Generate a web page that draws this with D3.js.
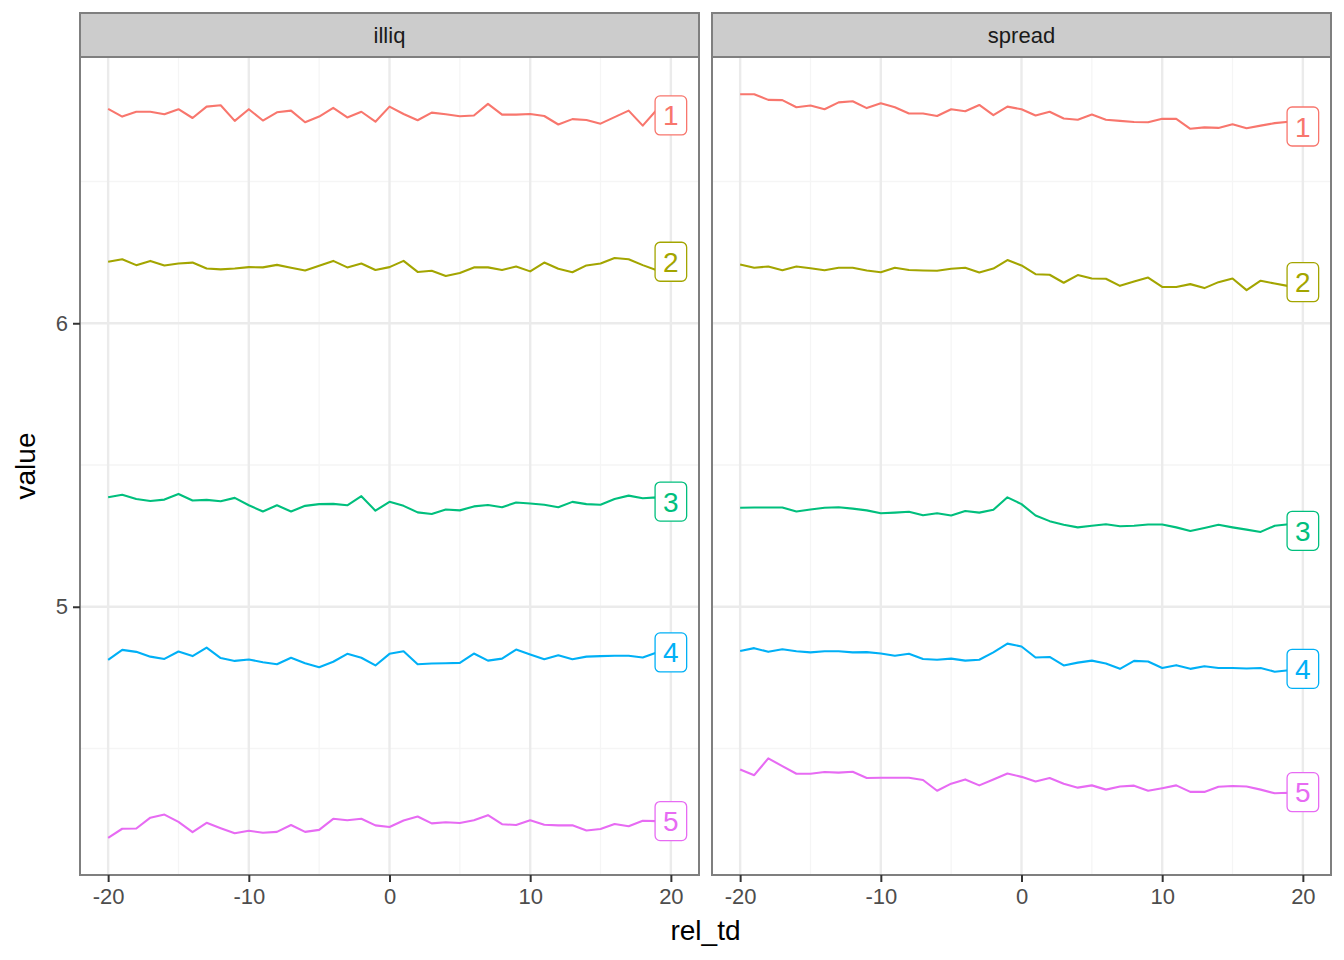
<!DOCTYPE html>
<html>
<head>
<meta charset="utf-8">
<script src="https://cdn.jsdelivr.net/npm/d3@7"></script>
<style>
  body { margin: 0; background: #ffffff; }
  text { font-family: "Liberation Sans", Arial, Helvetica, sans-serif; }
</style>
</head>
<body>
<svg id="chart" width="1344" height="960"></svg>
<script>
// ---------------- data ----------------
const relTd = [-20,-19,-18,-17,-16,-15,-14,-13,-12,-11,-10,-9,-8,-7,-6,-5,-4,-3,-2,-1,0,
               1,2,3,4,5,6,7,8,9,10,11,12,13,14,15,16,17,18,19,20];
const facets = ["illiq", "spread"];
const groups = ["1", "2", "3", "4", "5"];
const groupColors = ["#F8766D", "#A3A500", "#00BF7D", "#00B0F6", "#E76BF3"];
const xTicks = [-20, -10, 0, 10, 20];
const xMinorTicks = [-15, -5, 5, 15];
const yTicks = [5, 6];
const yMinorTicks = [4.5, 5.5, 6.5];

const illiq1 = [6.756, 6.729, 6.746, 6.746, 6.737, 6.755, 6.724, 6.764, 6.769, 6.714,
                6.755, 6.715, 6.744, 6.750, 6.709, 6.729, 6.760, 6.726, 6.746, 6.711,
                6.764, 6.738, 6.716, 6.743, 6.737, 6.730, 6.733, 6.774, 6.736, 6.736,
                6.738, 6.731, 6.701, 6.720, 6.717, 6.704, 6.727, 6.750, 6.697, 6.753, 6.760];
const illiq2 = [6.217, 6.226, 6.205, 6.220, 6.204, 6.211, 6.214, 6.193, 6.190, 6.193,
                6.198, 6.197, 6.206, 6.196, 6.186, 6.203, 6.220, 6.197, 6.211, 6.188,
                6.198, 6.220, 6.181, 6.185, 6.167, 6.177, 6.197, 6.197, 6.188, 6.200,
                6.183, 6.214, 6.192, 6.180, 6.204, 6.211, 6.230, 6.226, 6.205, 6.187, 6.175];
const illiq3 = [5.386, 5.395, 5.380, 5.373, 5.378, 5.398, 5.375, 5.377, 5.372, 5.384,
                5.358, 5.336, 5.358, 5.336, 5.356, 5.362, 5.363, 5.358, 5.390, 5.339,
                5.370, 5.356, 5.333, 5.327, 5.343, 5.340, 5.354, 5.359, 5.351, 5.368,
                5.364, 5.360, 5.351, 5.370, 5.362, 5.360, 5.380, 5.392, 5.383, 5.386, 5.385];
const illiq4 = [4.813, 4.848, 4.841, 4.824, 4.816, 4.842, 4.826, 4.856, 4.819, 4.809,
                4.814, 4.804, 4.797, 4.820, 4.801, 4.787, 4.806, 4.834, 4.820, 4.793,
                4.834, 4.843, 4.797, 4.800, 4.801, 4.802, 4.835, 4.810, 4.817, 4.849,
                4.832, 4.815, 4.829, 4.815, 4.824, 4.826, 4.827, 4.827, 4.821, 4.839, 4.845];
const illiq5 = [4.185, 4.217, 4.218, 4.256, 4.267, 4.241, 4.205, 4.238, 4.219, 4.201,
                4.210, 4.203, 4.206, 4.230, 4.206, 4.213, 4.252, 4.247, 4.252, 4.229,
                4.223, 4.246, 4.260, 4.236, 4.240, 4.237, 4.247, 4.265, 4.233, 4.230,
                4.247, 4.231, 4.229, 4.229, 4.211, 4.216, 4.234, 4.226, 4.245, 4.244, 4.244];

const spread1 = [6.808, 6.808, 6.788, 6.787, 6.762, 6.768, 6.755, 6.779, 6.783, 6.759,
                 6.776, 6.762, 6.740, 6.740, 6.731, 6.755, 6.748, 6.770, 6.734, 6.764,
                 6.755, 6.733, 6.746, 6.722, 6.718, 6.736, 6.718, 6.714, 6.710, 6.709,
                 6.721, 6.721, 6.686, 6.691, 6.689, 6.702, 6.688, 6.697, 6.706, 6.711, 6.715];
const spread2 = [6.207, 6.196, 6.200, 6.187, 6.200, 6.194, 6.187, 6.196, 6.196, 6.186,
                 6.180, 6.196, 6.188, 6.186, 6.185, 6.192, 6.196, 6.179, 6.193, 6.223,
                 6.204, 6.173, 6.171, 6.143, 6.170, 6.158, 6.157, 6.132, 6.147, 6.161,
                 6.128, 6.128, 6.138, 6.124, 6.145, 6.158, 6.117, 6.150, 6.140, 6.131, 6.128];
const spread3 = [5.349, 5.350, 5.350, 5.350, 5.336, 5.343, 5.349, 5.351, 5.346, 5.340,
                 5.330, 5.332, 5.335, 5.323, 5.330, 5.322, 5.338, 5.332, 5.342, 5.386,
                 5.362, 5.322, 5.302, 5.289, 5.280, 5.286, 5.291, 5.284, 5.286, 5.290,
                 5.290, 5.280, 5.267, 5.278, 5.289, 5.280, 5.272, 5.264, 5.286, 5.291, 5.292];
const spread4 = [4.844, 4.854, 4.841, 4.850, 4.843, 4.839, 4.843, 4.843, 4.839, 4.840,
                 4.835, 4.827, 4.834, 4.816, 4.813, 4.817, 4.810, 4.813, 4.839, 4.870,
                 4.860, 4.821, 4.823, 4.793, 4.803, 4.810, 4.800, 4.781, 4.809, 4.807,
                 4.784, 4.794, 4.781, 4.790, 4.784, 4.784, 4.782, 4.784, 4.771, 4.776, 4.775];
const spread5 = [4.426, 4.406, 4.465, 4.438, 4.411, 4.411, 4.417, 4.415, 4.418, 4.396,
                 4.397, 4.397, 4.397, 4.389, 4.351, 4.376, 4.391, 4.370, 4.391, 4.412,
                 4.400, 4.384, 4.396, 4.376, 4.362, 4.370, 4.355, 4.366, 4.369, 4.351,
                 4.360, 4.370, 4.347, 4.347, 4.365, 4.368, 4.366, 4.355, 4.342, 4.344, 4.343];

// label positions (value at rel_td = 20, slightly repelled)
const illiqLabelValues  = [6.733, 6.217, 5.371, 4.839, 4.244];
const spreadLabelValues = [6.694, 6.145, 5.268, 4.781, 4.346];

const seriesByFacet = {
  illiq:  [illiq1, illiq2, illiq3, illiq4, illiq5],
  spread: [spread1, spread2, spread3, spread4, spread5]
};
const labelsByFacet = { illiq: illiqLabelValues, spread: spreadLabelValues };

// ---------------- layout ----------------
const svg = d3.select("#chart");
const panelTop = 57, panelBottom = 875, stripTop = 13;
const panelX = [[80, 699], [712, 1331]];
const borderColor = "#7f7f7f";

const allVals = Object.values(seriesByFacet).flat(2);
const yMin = d3.min(allVals), yMax = d3.max(allVals);
const yPad = (yMax - yMin) * 0.05;
const y = d3.scaleLinear().domain([yMin - yPad, yMax + yPad]).range([panelBottom, panelTop]);
const xExt = d3.extent(relTd);
const xPad = (xExt[1] - xExt[0]) * 0.05;

facets.forEach((facet, fi) => {
  const [x0, x1] = panelX[fi];
  const x = d3.scaleLinear().domain([xExt[0] - xPad, xExt[1] + xPad]).range([x0, x1]);
  const g = svg.append("g");

  // panel background
  g.append("rect").attr("x", x0).attr("y", panelTop).attr("width", x1 - x0)
    .attr("height", panelBottom - panelTop).attr("fill", "#ffffff");

  // minor grid
  g.selectAll(".ymin").data(yMinorTicks).join("line")
    .attr("x1", x0).attr("x2", x1).attr("y1", d => y(d)).attr("y2", d => y(d))
    .attr("stroke", "#F5F5F5").attr("stroke-width", 1.3);
  g.selectAll(".xmin").data(xMinorTicks).join("line")
    .attr("y1", panelTop).attr("y2", panelBottom).attr("x1", d => x(d)).attr("x2", d => x(d))
    .attr("stroke", "#F5F5F5").attr("stroke-width", 1.3);
  // major grid
  g.selectAll(".ymaj").data(yTicks).join("line")
    .attr("x1", x0).attr("x2", x1).attr("y1", d => y(d)).attr("y2", d => y(d))
    .attr("stroke", "#EBEBEB").attr("stroke-width", 2.4);
  g.selectAll(".xmaj").data(xTicks).join("line")
    .attr("y1", panelTop).attr("y2", panelBottom).attr("x1", d => x(d)).attr("x2", d => x(d))
    .attr("stroke", "#EBEBEB").attr("stroke-width", 2.4);

  // lines
  const line = d3.line().x((d, i) => x(relTd[i])).y(d => y(d));
  seriesByFacet[facet].forEach((vals, si) => {
    g.append("path").datum(vals).attr("d", line)
      .attr("fill", "none").attr("stroke", groupColors[si])
      .attr("stroke-width", 2.1).attr("stroke-linejoin", "round");
  });

  // labels
  labelsByFacet[facet].forEach((v, si) => {
    const cx = x(relTd[relTd.length - 1]), cy = y(v);
    const lg = g.append("g");
    const t = lg.append("text").attr("x", cx).attr("y", cy + 10)
      .attr("text-anchor", "middle").attr("font-size", 28)
      .attr("fill", groupColors[si]).text(groups[si]);
    const w = t.node().getComputedTextLength() + 16;
    lg.insert("rect", "text").attr("x", cx - w / 2).attr("y", cy - 19.5)
      .attr("width", w).attr("height", 39).attr("rx", 5).attr("ry", 5)
      .attr("fill", "#ffffff").attr("stroke", groupColors[si]).attr("stroke-width", 1.3);
  });

  // panel border
  g.append("rect").attr("x", x0).attr("y", panelTop).attr("width", x1 - x0)
    .attr("height", panelBottom - panelTop).attr("fill", "none")
    .attr("stroke", borderColor).attr("stroke-width", 2);

  // strip
  g.append("rect").attr("x", x0).attr("y", stripTop).attr("width", x1 - x0)
    .attr("height", panelTop - stripTop).attr("fill", "#CCCCCC")
    .attr("stroke", borderColor).attr("stroke-width", 2);
  g.append("text").attr("x", (x0 + x1) / 2).attr("y", (stripTop + panelTop) / 2 + 8)
    .attr("text-anchor", "middle").attr("font-size", 22).attr("fill", "#1A1A1A").text(facet);

  // x axis
  const xa = g.append("g").attr("transform", `translate(0,${panelBottom})`)
    .call(d3.axisBottom(x).tickValues(xTicks).tickSize(7).tickPadding(6).tickFormat(d => String(d)));
  xa.select(".domain").remove();
  xa.selectAll(".tick line").attr("stroke", "#333333").attr("stroke-width", 2);
  xa.selectAll(".tick text").attr("font-size", 22).attr("fill", "#4D4D4D")
    .attr("font-family", "\"Liberation Sans\", Arial, sans-serif");

  // y axis (left panel only)
  if (fi === 0) {
    const ya = g.append("g").attr("transform", `translate(${x0},0)`)
      .call(d3.axisLeft(y).tickValues(yTicks).tickSize(7).tickPadding(5).tickFormat(d => String(d)));
    ya.select(".domain").remove();
    ya.selectAll(".tick line").attr("stroke", "#333333").attr("stroke-width", 2);
    ya.selectAll(".tick text").attr("font-size", 22).attr("fill", "#4D4D4D")
      .attr("font-family", "\"Liberation Sans\", Arial, sans-serif");
  }
});

// axis titles
svg.append("text").attr("x", (panelX[0][0] + panelX[1][1]) / 2).attr("y", 940)
  .attr("text-anchor", "middle").attr("font-size", 28).attr("fill", "#000").text("rel_td");
svg.append("text").attr("transform", `translate(35,${(panelTop + panelBottom) / 2}) rotate(-90)`)
  .attr("text-anchor", "middle").attr("font-size", 28).attr("fill", "#000").text("value");
</script>
</body>
</html>
